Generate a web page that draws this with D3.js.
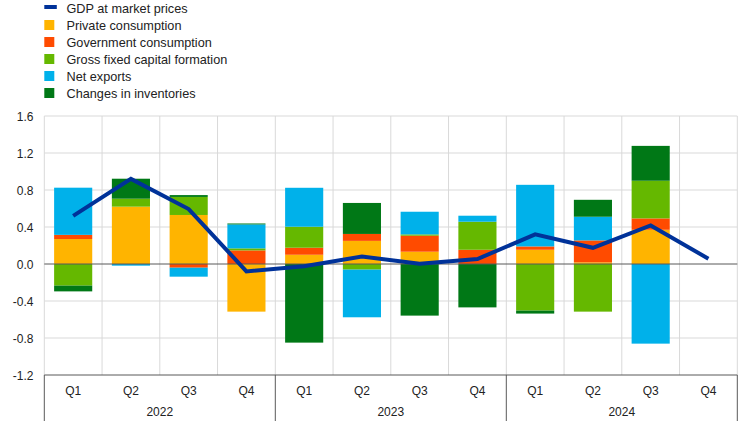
<!DOCTYPE html>
<html>
<head>
<meta charset="utf-8">
<script src="https://cdn.jsdelivr.net/npm/d3@7"></script>
<style>
  html, body { margin: 0; padding: 0; background: #fff; }
  svg { display: block; font-family: "Liberation Sans", Arial, sans-serif; }
</style>
</head>
<body>
<svg id="chart" width="742" height="421"></svg>
<script>
// ---- data ----
const quarters = ["Q1","Q2","Q3","Q4","Q1","Q2","Q3","Q4","Q1","Q2","Q3","Q4"];
const years = ["2022","2023","2024"];
const privateConsumption = [0.27, 0.62, 0.53, -0.515, 0.10, 0.25, 0.133, 0.0, 0.154, 0.018, 0.37, null];
const governmentConsumption = [0.045, 0.0, -0.04, 0.147, 0.076, 0.075, 0.173, 0.154, 0.036, 0.237, 0.123, null];
const grossFixedCapitalFormation = [-0.234, 0.086, 0.195, 0.022, 0.227, -0.061, 0.014, 0.303, -0.504, -0.515, 0.407, null];
const netExports = [0.51, -0.018, -0.097, 0.259, 0.421, -0.515, 0.245, 0.065, 0.666, 0.256, -0.861, null];
const changesInInventories = [-0.062, 0.216, 0.02, 0.01, -0.85, 0.335, -0.558, -0.469, -0.032, 0.183, 0.377, null];
const gdp = [0.52, 0.92, 0.594, -0.08, -0.025, 0.082, 0.003, 0.054, 0.32, 0.175, 0.417, 0.057];
const yTicks = [-1.2, -0.8, -0.4, 0.0, 0.4, 0.8, 1.2, 1.6];

const seriesNames = ["Private consumption", "Government consumption", "Gross fixed capital formation", "Net exports", "Changes in inventories"];
const seriesValues = [privateConsumption, governmentConsumption, grossFixedCapitalFormation, netExports, changesInInventories];
const seriesColors = ["#FFB400", "#FF4B00", "#65B800", "#00B1EA", "#007816"];
const gdpName = "GDP at market prices";
const gdpColor = "#003299";

(function () {
// ---- layout ----
const svg = d3.select("#chart");
const pLeft = 44.3, pRight = 737.3, pTop = 116, pBottom = 375;

const idx = quarters.map((q, i) => i);
const x = d3.scaleBand().domain(idx).range([pLeft, pRight]).paddingInner(0.34).paddingOuter(0.17);
const xb = d3.scaleBand().domain(idx).range([pLeft, pRight]);
const y = d3.scaleLinear().domain([-1.2, 1.6]).range([pBottom, pTop]);

// gridlines
const grid = svg.append("g");
grid.selectAll("line.h").data(yTicks.filter(t => t !== -1.2 && t !== 0)).enter().append("line")
  .attr("x1", pLeft).attr("x2", pRight)
  .attr("y1", d => y(d)).attr("y2", d => y(d))
  .attr("stroke", "#d9d9d9").attr("stroke-width", 1);
grid.selectAll("line.v").data(d3.range(0, quarters.length + 1)).enter().append("line")
  .attr("x1", d => pLeft + d * xb.bandwidth()).attr("x2", d => pLeft + d * xb.bandwidth())
  .attr("y1", pTop).attr("y2", pBottom)
  .attr("stroke", "#d9d9d9").attr("stroke-width", 1);

// stacked bars
const table = idx.map(i => {
  const o = { i };
  seriesNames.forEach((n, k) => { o[n] = seriesValues[k][i] == null ? 0 : seriesValues[k][i]; });
  return o;
});
const stack = d3.stack().keys(seriesNames).offset(d3.stackOffsetDiverging);
const stacked = stack(table);

svg.append("g").selectAll("g").data(stacked).enter().append("g")
  .attr("fill", (d, k) => seriesColors[k])
  .selectAll("rect").data(d => d).enter().append("rect")
  .attr("x", d => x(d.data.i))
  .attr("width", x.bandwidth())
  .attr("y", d => y(Math.max(d[0], d[1])))
  .attr("height", d => Math.abs(y(d[0]) - y(d[1])));

// zero line
svg.append("line")
  .attr("x1", pLeft).attr("x2", pRight).attr("y1", y(0)).attr("y2", y(0))
  .attr("stroke", "#595959").attr("stroke-width", 1);

// GDP line
const line = d3.line()
  .x((d, i) => xb(i) + xb.bandwidth() / 2)
  .y(d => y(d));
svg.append("path").datum(gdp)
  .attr("d", line)
  .attr("fill", "none")
  .attr("stroke", gdpColor)
  .attr("stroke-width", 4)
  .attr("stroke-linejoin", "miter");

// y axis labels
svg.append("g").selectAll("text").data(yTicks).enter().append("text")
  .attr("x", 33.5).attr("y", d => y(d) + 4.6)
  .attr("text-anchor", "end")
  .attr("font-size", 12).attr("fill", "#222")
  .text(d => d.toFixed(1));

// x axis
svg.append("line")
  .attr("x1", pLeft).attr("x2", pRight).attr("y1", pBottom).attr("y2", pBottom)
  .attr("stroke", "#595959").attr("stroke-width", 1);
svg.append("g").selectAll("line").data([0, 4, 8, 12]).enter().append("line")
  .attr("x1", d => pLeft + d * xb.bandwidth()).attr("x2", d => pLeft + d * xb.bandwidth())
  .attr("y1", pBottom).attr("y2", 421)
  .attr("stroke", "#595959").attr("stroke-width", 1);
svg.append("g").selectAll("text").data(idx).enter().append("text")
  .attr("x", d => xb(d) + xb.bandwidth() / 2).attr("y", 395)
  .attr("text-anchor", "middle").attr("font-size", 12).attr("fill", "#222")
  .text(d => quarters[d]);
svg.append("g").selectAll("text").data(years).enter().append("text")
  .attr("x", (d, k) => pLeft + (k * 4 + 2) * xb.bandwidth()).attr("y", 415.5)
  .attr("text-anchor", "middle").attr("font-size", 12).attr("fill", "#222")
  .text(d => d);

// legend
const legend = svg.append("g");
const legendItems = [{ name: gdpName, color: gdpColor, line: true }]
  .concat(seriesNames.map((n, k) => ({ name: n, color: seriesColors[k], line: false })));
const lg = legend.selectAll("g").data(legendItems).enter().append("g")
  .attr("transform", (d, k) => `translate(0, ${8 + 17 * k})`);
lg.append("rect")
  .attr("x", 44.3)
  .attr("y", d => d.line ? -3 : -5)
  .attr("width", d => d.line ? 12.5 : 10)
  .attr("height", d => d.line ? 4 : 10)
  .attr("fill", d => d.color);
lg.append("text")
  .attr("x", 66.5).attr("y", 4.6)
  .attr("font-size", 12.7).attr("fill", "#222")
  .text(d => d.name);
})();
</script>
</body>
</html>
